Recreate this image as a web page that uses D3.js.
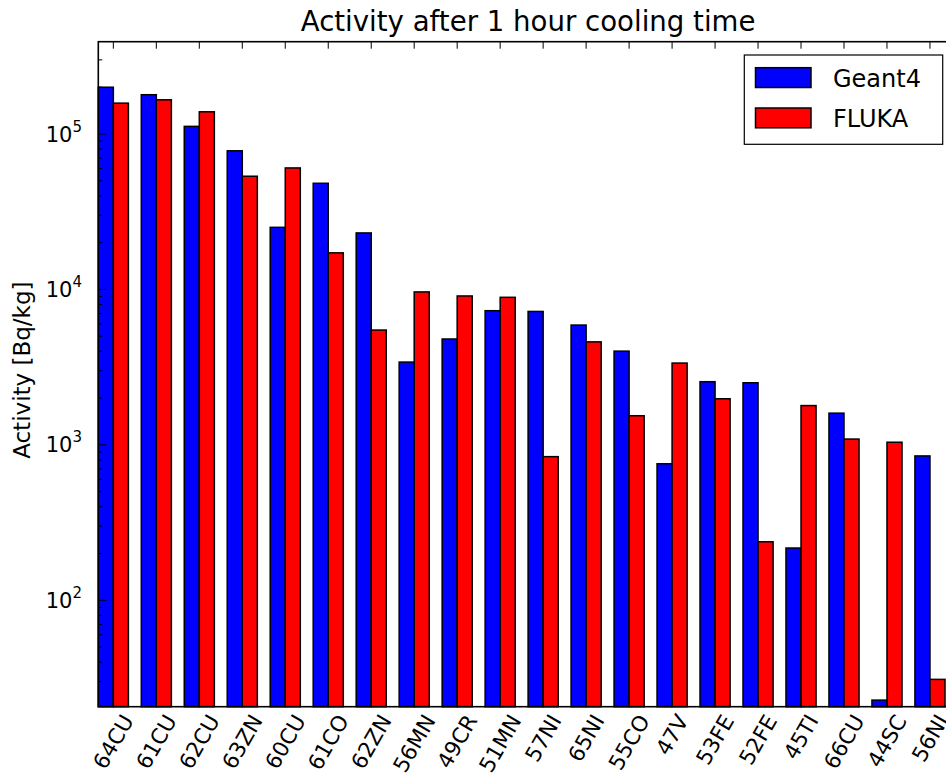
<!DOCTYPE html>
<html>
<head>
<meta charset="utf-8">
<script src="https://cdn.jsdelivr.net/npm/d3@7"></script>
<style>
  html, body { margin: 0; padding: 0; background: #fff; }
  svg { display: block; font-family: "DejaVu Sans", sans-serif; }
</style>
</head>
<body>
<svg id="chart" width="946" height="775"></svg>
<script>
// ---- data ----
const categories = ["64CU","61CU","62CU","63ZN","60CU","61CO","62ZN","56MN","49CR","51MN",
                    "57NI","65NI","55CO","47V","53FE","52FE","45TI","66CU","44SC","56NI"];
const geant4 = [200000, 179000, 112000, 78000, 25100, 48200, 23100, 3410, 4800, 7300,
                7220, 5900, 4010, 756, 2550, 2510, 217, 1600, 22.8, 849];
const fluka  = [158000, 166000, 139000, 53500, 60500, 17200, 5480, 9640, 9080, 8900,
                840, 4600, 1540, 3360, 1980, 238, 1790, 1090, 1040, 31];
const seriesNames = ["Geant4", "FLUKA"];
const seriesColors = ["#0000ff", "#ff0000"];
const yTickExponents = [2, 3, 4, 5];
const titleText = "Activity after 1 hour cooling time";
const yLabelText = "Activity [Bq/kg]";

(function () {
// ---- layout ----
const svg = d3.select("#chart");
const L = 98.3, R = 957.9, T = 41.7, B = 706.7;
const barW = 0.35;

const x = d3.scaleLinear().domain([0, 20]).range([L, R]);
const y = d3.scaleLog().domain([20.68, 392600]).range([B, T]);

// bars
const g = svg.append("g");
[geant4, fluka].forEach((vals, s) => {
  g.selectAll(null).data(vals).enter().append("rect")
    .attr("x", (d, i) => x(i + s * barW))
    .attr("width", x(barW) - x(0))
    .attr("y", d => y(d))
    .attr("height", d => B - y(d))
    .attr("fill", seriesColors[s])
    .attr("stroke", "#000")
    .attr("stroke-width", 1.5);
});

// spines
svg.append("rect")
  .attr("x", L).attr("y", T)
  .attr("width", R - L).attr("height", B - T)
  .attr("fill", "none").attr("stroke", "#000").attr("stroke-width", 1.6);

// x ticks (inside, top and bottom)
const xt = svg.append("g");
categories.forEach((c, i) => {
  const tx = x(i + barW);
  xt.append("line").attr("x1", tx).attr("x2", tx).attr("y1", B).attr("y2", B - 7)
    .attr("stroke", "#000").attr("stroke-width", 1);
  xt.append("line").attr("x1", tx).attr("x2", tx).attr("y1", T).attr("y2", T + 7)
    .attr("stroke", "#000").attr("stroke-width", 1);
});

// x tick labels rotated 60
const xfs = 21.5;
categories.forEach((c, i) => {
  const tx = x(i + barW);
  const t = svg.append("text")
    .attr("font-size", xfs)
    .attr("text-anchor", "middle")
    .attr("dominant-baseline", "central")
    .text(c);
  const w = t.node().getComputedTextLength();
  const lh = xfs * 1.1;
  const bh = w * Math.sin(Math.PI / 3) + lh * Math.cos(Math.PI / 3);
  const cy = B + 4 + bh / 2;
  t.attr("transform", `translate(${tx},${cy}) rotate(-60)`);
});

// y ticks: major and minor, inside left (and right)
const yt = svg.append("g");
const [d0, d1] = y.domain();
for (let e = 1; e <= 5; e++) {
  for (let m = 1; m <= 9; m++) {
    const v = m * Math.pow(10, e);
    if (v < d0 || v > d1) continue;
    const len = m === 1 ? 8 : 4;
    yt.append("line").attr("x1", L).attr("x2", L + len)
      .attr("y1", y(v)).attr("y2", y(v)).attr("stroke", "#000").attr("stroke-width", 1);
    yt.append("line").attr("x1", R).attr("x2", R - len)
      .attr("y1", y(v)).attr("y2", y(v)).attr("stroke", "#000").attr("stroke-width", 1);
  }
}
yTickExponents.forEach(e => {
  const ty = y(Math.pow(10, e));
  const t = svg.append("text")
    .attr("x", 82).attr("y", ty + 7.5)
    .attr("text-anchor", "end")
    .attr("font-size", 21);
  t.append("tspan").text("10");
  t.append("tspan").attr("dy", -10).attr("font-size", 15).text(String(e));
});

// y label
svg.append("text")
  .attr("transform", `translate(30,${(T + B) / 2 - 4}) rotate(-90)`)
  .attr("text-anchor", "middle")
  .attr("font-size", 23)
  .text(yLabelText);

// title
svg.append("text")
  .attr("x", (L + R) / 2).attr("y", 31)
  .attr("text-anchor", "middle")
  .attr("font-size", 27.6)
  .text(titleText);

// legend
const lg = svg.append("g");
lg.append("rect").attr("x", 744.3).attr("y", 55).attr("width", 198.4).attr("height", 89.3)
  .attr("fill", "#fff").attr("stroke", "#000").attr("stroke-width", 1.2);
seriesNames.forEach((n, s) => {
  const py = 67.7 + s * 40.3;
  lg.append("rect").attr("x", 755.5).attr("y", py).attr("width", 55.5).attr("height", 19.8)
    .attr("fill", seriesColors[s]).attr("stroke", "#000").attr("stroke-width", 1.5);
  lg.append("text").attr("x", 833).attr("y", py + 19).attr("font-size", 24).text(n);
});
})();
</script>
</body>
</html>
